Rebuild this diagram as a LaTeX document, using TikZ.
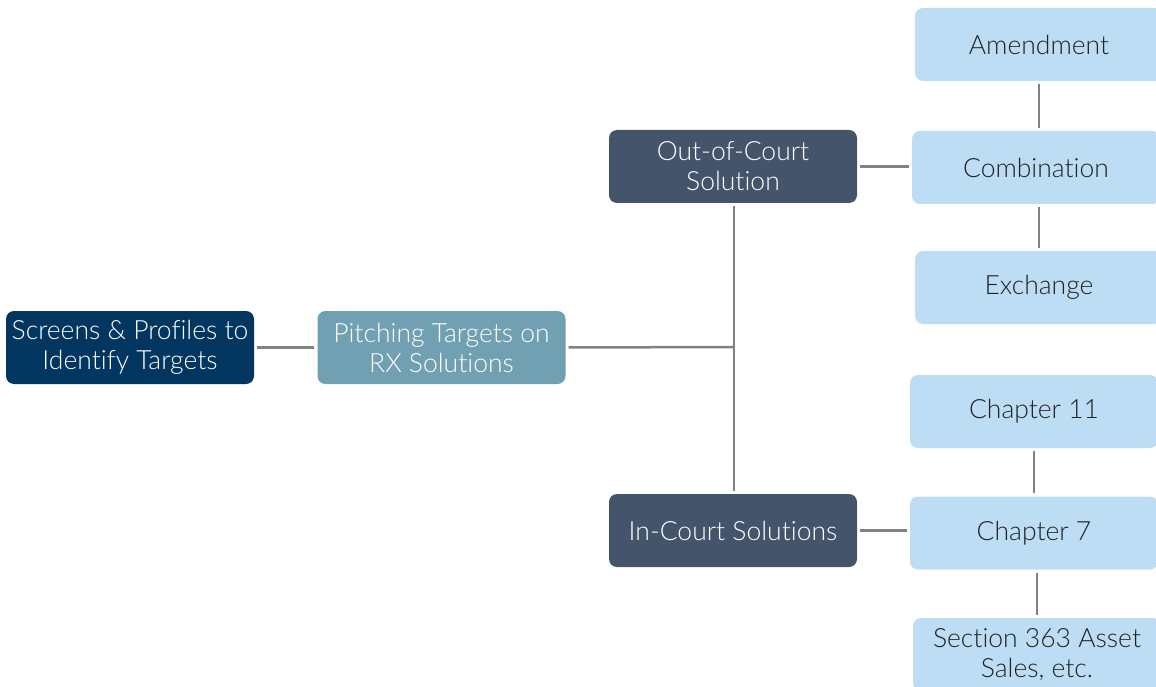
\documentclass[tikz,border=0pt]{standalone}
\usepackage{fontspec}
\setmainfont{Lato Light}[Ligatures={NoCommon,NoContextual}]
\begin{document}
\begin{tikzpicture}[x=1pt,y=-1pt,
  box/.style={rounded corners=8pt, minimum width=248pt, minimum height=73pt, align=center, inner sep=2pt, font=\fontsize{26.5}{30}\selectfont},
  navy/.style={box, fill=navyc, text=white},
  teal/.style={box, fill=tealc, text=white},
  slate/.style={box, fill=slatec, text=white},
  light/.style={box, fill=lightc, text=textc},
  conn/.style={draw=linec, line width=2.5pt, shorten >=3pt, shorten <=3pt}
]
\definecolor{navyc}{HTML}{003660}
\definecolor{tealc}{HTML}{70A0B1}
\definecolor{slatec}{HTML}{44546A}
\definecolor{lightc}{HTML}{BDDDF4}
\definecolor{linec}{HTML}{828282}
\definecolor{textc}{HTML}{222222}
\useasboundingbox (0,0) rectangle (1156,687);
\node[navy] (scr) at (130,347.5) {Screens \& Profiles to\\Identify Targets};
\node[teal] (pit) at (441.5,347.5) {Pitching Targets on\\RX Solutions};
\node[slate] (out) at (733,166.5) {Out-of-Court\\Solution};
\node[slate] (inc) at (733,530.5) {In-Court Solutions};
\node[light] (ame) at (1039,44.5) {Amendment};
\node[light] (com) at (1036,167.5) {Combination};
\node[light] (exc) at (1039,287.5) {Exchange};
\node[light] (c11) at (1034,411.5) {Chapter 11};
\node[light] (c7) at (1034,533) {Chapter 7};
\node[light] (sec) at (1037,654.5) {Section 363 Asset\\Sales, etc.};
\coordinate (jn) at (734,347);
\draw[conn] (scr.east) -- (pit.west);
\draw[conn, shorten >=0pt] (pit.east) -- (jn);
\draw[conn] (out.south -| jn) -- (inc.north -| jn);
\draw[conn] (out.east) -- (out.east -| com.west);
\draw[conn] (inc.east) -- (inc.east -| c7.west);
\draw[conn] (ame.south) -- (ame.south |- com.north);
\draw[conn] (exc.north) -- (exc.north |- com.south);
\draw[conn] (c11.south) -- (c7.north);
\draw[conn] (sec.north) -- (sec.north |- c7.south);
\end{tikzpicture}
\end{document}
